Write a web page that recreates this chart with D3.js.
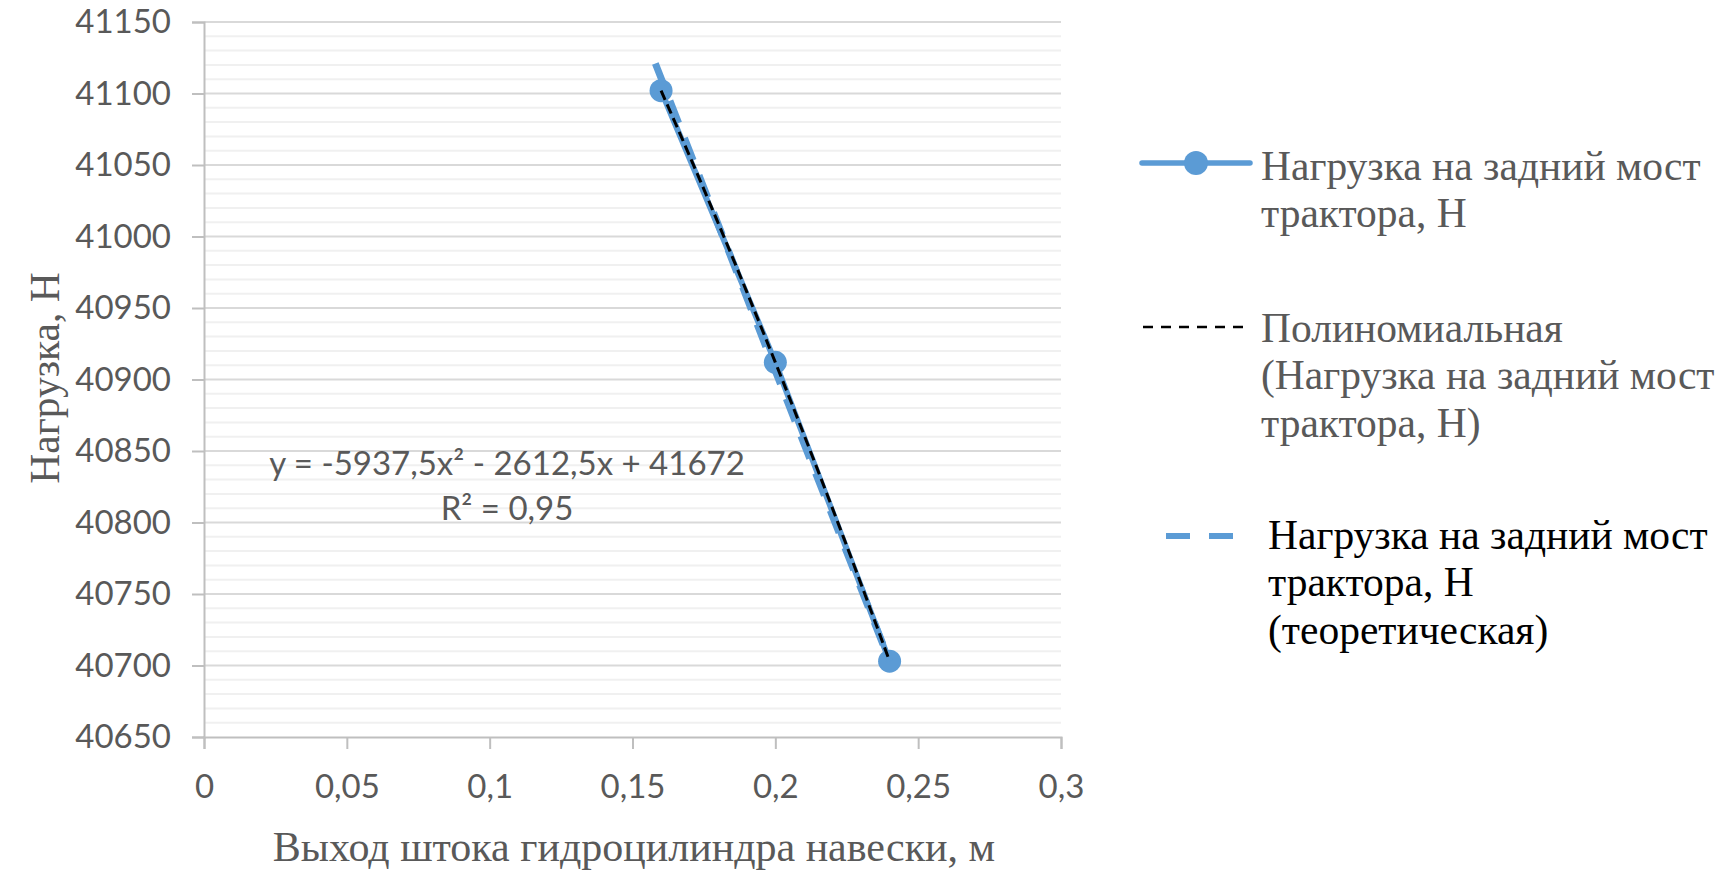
<!DOCTYPE html>
<html>
<head>
<meta charset="utf-8">
<script src="https://cdn.jsdelivr.net/npm/d3@7"></script>
<style>
  body { margin: 0; background: #fff; }
  svg { display: block; }
</style>
</head>
<body>
<div id="chart"></div>
<script>
// measured values
const stroke = [0.16, 0.2, 0.24];          // выход штока, м
const load = [41102, 40912, 40703];        // нагрузка, Н
const theoryX = [0.158, 0.2, 0.24];
const theoryY = [41121, 40906, 40703];
const trendCoef = [-5937.5, -2612.5, 41672]; // a, b, c
const xTicks = [0, 0.05, 0.1, 0.15, 0.2, 0.25, 0.3];
const yTicks = [40650, 40700, 40750, 40800, 40850, 40900, 40950, 41000, 41050, 41100, 41150];
const legendLabels = [
  ['Нагрузка на задний мост', 'трактора, Н'],
  ['Полиномиальная', '(Нагрузка на задний мост', 'трактора, Н)'],
  ['Нагрузка на задний мост', 'трактора, Н', '(теоретическая)']
];

const W = 1729, H = 882;
const plotL = 204, plotR = 1061, plotT = 22, plotB = 737;
const blue = '#5b9bd5';
const grey = '#595959';
const serif = '"Liberation Serif", "Times New Roman", serif';
const sans = 'Lato, "Open Sans", sans-serif';

const ru = d3.formatLocale({decimal: ',', thousands: '', grouping: [3], currency: ['', '']});
const fmtX = ru.format('~g');

const x = d3.scaleLinear().domain([0, 0.3]).range([plotL, plotR]);
const y = d3.scaleLinear().domain([40650, 41150]).range([plotB, plotT]);

const svg = d3.select('#chart').append('svg')
  .attr('width', W).attr('height', H);

svg.append('rect').attr('width', W).attr('height', H).attr('fill', '#fff');

// minor grid every 10
const minor = d3.range(40650, 41150, 10).filter(v => v % 50 !== 0);
svg.append('g').selectAll('line').data(minor).enter().append('line')
  .attr('x1', plotL).attr('x2', plotR)
  .attr('y1', d => y(d)).attr('y2', d => y(d))
  .attr('stroke', '#f0f0f0').attr('stroke-width', 2);

svg.append('g').selectAll('line').data(yTicks.slice(1)).enter().append('line')
  .attr('x1', plotL).attr('x2', plotR)
  .attr('y1', d => y(d)).attr('y2', d => y(d))
  .attr('stroke', '#d9d9d9').attr('stroke-width', 2);

// axes
const yAxis = svg.append('g')
  .attr('transform', `translate(${plotL},0)`)
  .call(d3.axisLeft(y).tickValues(yTicks).tickSize(12).tickPadding(21).tickFormat(d3.format('d')));
const xAxis = svg.append('g')
  .attr('transform', `translate(0,${plotB})`)
  .call(d3.axisBottom(x).tickValues(xTicks).tickSize(12).tickFormat(fmtX));

[yAxis, xAxis].forEach(g => {
  g.select('.domain').attr('stroke', '#bfbfbf').attr('stroke-width', 2);
  g.selectAll('.tick line').attr('stroke', '#bfbfbf').attr('stroke-width', 2);
  g.selectAll('text').attr('fill', grey).style('font-family', sans).style('font-size', '33px');
});
xAxis.selectAll('text').attr('y', 49).attr('dy', '0.35em');

// series
const line = d3.line().x(d => x(d[0])).y(d => y(d[1]));
const pts = stroke.map((v, i) => [v, load[i]]);

svg.append('path').datum(pts)
  .attr('d', line).attr('fill', 'none')
  .attr('stroke', blue).attr('stroke-width', 6).attr('stroke-linecap', 'round');

svg.append('g').selectAll('circle').data(pts).enter().append('circle')
  .attr('cx', d => x(d[0])).attr('cy', d => y(d[1])).attr('r', 11.5)
  .attr('fill', blue);

svg.append('path').datum(theoryX.map((v, i) => [v, theoryY[i]]))
  .attr('d', line).attr('fill', 'none')
  .attr('stroke', blue).attr('stroke-width', 7).attr('stroke-dasharray', '24 16');

// polynomial trend line over data range
const [a, b, c] = trendCoef;
const trend = d3.range(0, 41).map(i => {
  const t = d3.min(stroke) + (d3.max(stroke) - d3.min(stroke)) * i / 40;
  return [t, a * t * t + b * t + c];
});
svg.append('path').datum(trend)
  .attr('d', line).attr('fill', 'none')
  .attr('stroke', '#000').attr('stroke-width', 3).attr('stroke-dasharray', '10 5');

// trend equation
const eq = svg.append('text')
  .attr('x', 507).attr('y', 463).attr('text-anchor', 'middle')
  .attr('fill', grey).style('font-family', sans).style('font-size', '33px');
eq.append('tspan').attr('x', 507).attr('dy', '0.35em').text('y = -5937,5x² - 2612,5x + 41672');
eq.append('tspan').attr('x', 507).attr('dy', '1.37em').text('R² = 0,95');

// axis titles
svg.append('text')
  .attr('transform', 'translate(44,378) rotate(-90)')
  .attr('text-anchor', 'middle').attr('dy', '0.35em')
  .attr('fill', grey).style('font-family', serif).style('font-size', '41.5px')
  .text('Нагрузка, Н');

svg.append('text')
  .attr('x', 634).attr('y', 846).attr('text-anchor', 'middle').attr('dy', '0.35em')
  .attr('fill', grey).style('font-family', serif).style('font-size', '42px')
  .text('Выход штока гидроцилиндра навески, м');

// legend
const legendY = [165, 327, 534];
const legendTextX = [1261, 1261, 1268];
const legendColor = [grey, grey, '#000'];
const lg = svg.append('g');

lg.append('line').attr('x1', 1142).attr('x2', 1250).attr('y1', 163).attr('y2', 163)
  .attr('stroke', blue).attr('stroke-width', 5.5).attr('stroke-linecap', 'round');
lg.append('circle').attr('cx', 1196).attr('cy', 163).attr('r', 12).attr('fill', blue);

lg.append('line').attr('x1', 1143).attr('x2', 1246).attr('y1', 327).attr('y2', 327)
  .attr('stroke', '#000').attr('stroke-width', 2.5).attr('stroke-dasharray', '10 8');

lg.append('line').attr('x1', 1166).attr('x2', 1233).attr('y1', 536).attr('y2', 536)
  .attr('stroke', blue).attr('stroke-width', 6).attr('stroke-dasharray', '24 19');

legendLabels.forEach((lines, i) => {
  const t = lg.append('text')
    .attr('fill', legendColor[i]).style('font-family', serif).style('font-size', '41.5px');
  lines.forEach((s, j) => {
    t.append('tspan').attr('x', legendTextX[i]).attr('y', legendY[i] + j * 47.5)
      .attr('dy', '0.35em').text(s);
  });
});
</script>
</body>
</html>
